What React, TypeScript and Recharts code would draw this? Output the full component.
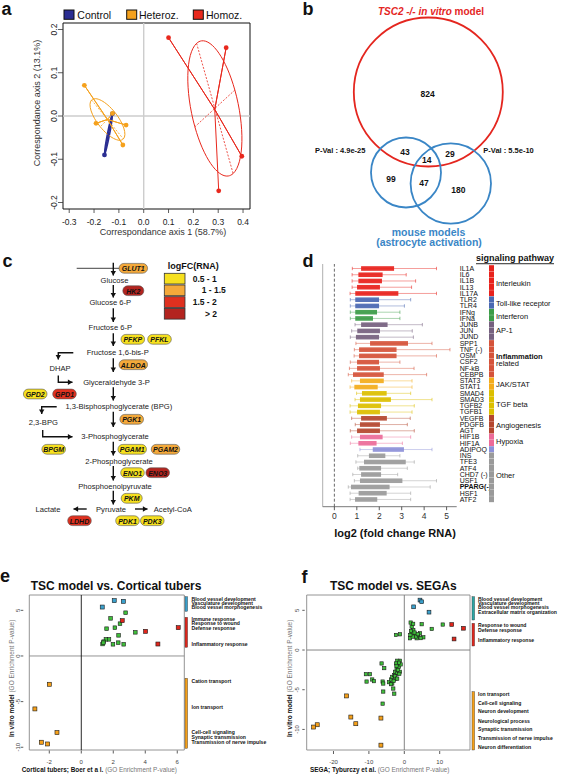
import React from "react";
import {
  Bar,
  Cell,
  ComposedChart,
  ReferenceArea,
  ReferenceLine,
  Scatter,
  ScatterChart,
  XAxis,
  YAxis,
} from "recharts";

const FONT = '"Liberation Sans", Arial, Helvetica, sans-serif';

/* ---------- a: correspondence analysis ---------- */
const CONTROL = "#2b2e92";
const HETEROZ = "#f5a11c";
const HOMOZ = "#e8281d";

const controlPoints = [
  { x: -0.158, y: -0.09 },
  { x: -0.126, y: 0.005 },
];
const controlCentroid = { x: -0.142, y: -0.042 };
const heterozPoints = [
  { x: -0.239, y: 0.071 },
  { x: -0.192, y: -0.017 },
  { x: -0.071, y: -0.021 },
  { x: -0.084, y: -0.067 },
  { x: -0.126, y: 0.006 },
];
const heterozCentroid = { x: -0.146, y: -0.008 };
const homozPoints = [
  { x: 0.1, y: 0.181 },
  { x: 0.332, y: 0.158 },
  { x: 0.395, y: -0.093 },
  { x: 0.302, y: -0.173 },
];
const homozCentroid = { x: 0.286, y: 0.015 };
// ellipse axis ends: major+, minor+, major-, minor-
const controlEllipse = [
  { x: -0.127, y: 0.002 },
  { x: -0.138, y: -0.0435 },
  { x: -0.157, y: -0.087 },
  { x: -0.146, y: -0.0415 },
];
const heterozEllipse = [
  { x: -0.21, y: 0.037 },
  { x: -0.117, y: 0.009 },
  { x: -0.082, y: -0.053 },
  { x: -0.175, y: -0.025 },
];
const homozEllipse = [
  { x: 0.213, y: 0.168 },
  { x: 0.367, y: 0.06 },
  { x: 0.36, y: -0.133 },
  { x: 0.206, y: -0.025 },
];
const aXTicks = [-0.3, -0.2, -0.1, 0, 0.1, 0.2, 0.3, 0.4];
const aYTicks = [-0.2, -0.1, 0, 0.1, 0.2];

/* ---------- b: venn ---------- */
const vennSetColors = ["#e4261f", "#3a86c6", "#3a86c6"];
const vennCircles = [
  { x: 138.3, y: 92, r: 74.5 },
  { x: 116, y: 172.5, r: 35 },
  { x: 160.8, y: 183.5, r: 40.2 },
];
const vennCounts = [824, 43, 14, 29, 99, 47, 180];
const vennCountPos = [
  [137.7, 94],
  [115, 152.3],
  [136.7, 160],
  [160, 154],
  [101, 179],
  [134, 182.7],
  [168.3, 190],
];

/* ---------- c: glycolysis ---------- */
const logFcBins = ["0.5 - 1", "1 - 1.5", "1.5 - 2", "> 2"];
const logFcColors = ["#f6e01e", "#f4a93a", "#df301f", "#b3241f"];
const metaboliteNames = [
  "Glucose", "Glucose 6-P", "Fructose 6-P", "Fructose 1,6-bis-P", "DHAP",
  "Glyceraldehyde 3-P", "1,3-Bisphosphoglycerate (BPG)", "2,3-BPG",
  "3-Phosphoglycerate", "2-Phosphoglycerate", "Phosphoenolpyruvate",
  "Pyruvate", "Lactate", "Acetyl-CoA",
];
const metaboliteXY = [
  [114.5, 280.7], [110.3, 302.7], [110.3, 327.3], [117.7, 352.7], [60, 368.3],
  [116.5, 382.3], [118.8, 406.7], [43.3, 422.7], [115, 436.7], [119, 461],
  [115, 486], [111, 509], [48, 509], [172.8, 509],
];
const enzymeNames = [
  "GLUT1", "HK2", "PFKP", "PFKL", "ALDOA", "GPD2", "GPD1", "PGK1", "BPGM",
  "PGAM1", "PGAM2", "ENO1", "ENO3", "PKM", "LDHD", "PDK1", "PDK3",
];
const enzymeBin = [1, 3, 0, 0, 1, 0, 2, 1, 0, 0, 1, 0, 3, 0, 2, 0, 0];
const enzymeXY = [
  [133.3, 268.3], [133.3, 290.7], [132.8, 339.3], [159.5, 339.3], [133.3, 364.7],
  [35.2, 394], [64.5, 394], [131.7, 419.3], [53.7, 449.3], [132.2, 449.3],
  [165.5, 449.3], [132.5, 472.7], [157.7, 472.7], [131.7, 498.3], [79.5, 520.7],
  [127.5, 520.7], [152.3, 520.7],
];
const pathwayArrows = [
  [[113.3, 262.7], [113.3, 275.5]],
  [[113.3, 285], [113.3, 297.5]],
  [[113.3, 308.3], [113.3, 322]],
  [[113.3, 333.3], [113.3, 346]],
  [[113.3, 358.3], [113.3, 372]],
  [[113.3, 387.3], [113.3, 400.5]],
  [[113.3, 411.7], [113.3, 427]],
  [[113.3, 441.7], [113.3, 455.5]],
  [[113.3, 466], [113.3, 480.5]],
  [[113.3, 490.7], [113.3, 504.5]],
  [[73.3, 352.7], [58.3, 352.7], [58.3, 359.5]],
  [[58.3, 375.5], [58.3, 382.3], [72.5, 382.3]],
  [[56.7, 406.7], [41.7, 406.7], [41.7, 414]],
  [[42.7, 430], [42.7, 436.7], [72.5, 436.7]],
  [[86.7, 509], [73.5, 509]],
  [[135, 509], [147.5, 509]],
];
const membrane = [[76.7, 268.3], [146.7, 268.3]];

/* ---------- d: boxplots ---------- */
const geneNames = [
  "IL1A", "IL6", "IL1B", "IL13", "IL17A", "TLR2", "TLR4", "IFNg", "IFNa",
  "JUNB", "JUN", "JUND", "SPP1", "TNF (-)", "OSM", "CSF2", "NF-kB", "CEBPB",
  "STAT3", "STAT1", "SMAD4", "SMAD3", "TGFB2", "TGFB1", "VEGFB", "PDGFB",
  "AGT", "HIF1B", "HIF1A", "ADIPOQ", "INS", "TFE3", "ATF4", "CHD7 (-)",
  "USF1", "PPARG(-)", "HSF1", "ATF2",
];
const geneGroup = [
  "IL", "IL", "IL", "IL", "IL", "TLR", "TLR", "IFN", "IFN", "AP1", "AP1", "AP1",
  "INF", "INF", "INF", "INF", "INF", "INF", "JAK", "JAK", "TGF", "TGF", "TGF",
  "TGF", "ANG", "ANG", "ANG", "HYP", "HYP", "ADI", "OTH", "OTH", "OTH", "OTH",
  "OTH", "OTH", "OTH", "OTH",
];
const whiskerLow = [
  0.8, 0.79, 0.79, 0.79, 0.7, 0.71, 0.71, 0.71, 0.71, 0.92, 0.77, 0.71, 0.96,
  0.89, 0.88, 0.71, 0.67, 0.62, 0.77, 0.7, 0.99, 0.92, 0.7, 0.7, 0.77, 0.93,
  0.71, 0.77, 0.71, 1.14, 1.04, 0.96, 1.04, 0.82, 0.89, 0.62, 0.7, 0.7,
];
const boxLow = [
  1.19, 1.07, 1.07, 1.01, 0.93, 0.93, 0.93, 0.93, 0.93, 1.19, 1.02, 0.96, 1.59,
  1.1, 1.1, 1.01, 1.01, 0.83, 1.14, 0.89, 1.23, 1.14, 1.05, 1.01, 1.19, 1.14,
  1.01, 1.14, 1.07, 1.71, 1.54, 1.32, 1.11, 1.19, 1.14, 0.74, 1.08, 0.92,
];
const boxHigh = [
  2.66, 2.15, 2.12, 2.03, 2.85, 1.99, 1.99, 1.9, 1.72, 2.37, 2.03, 1.99, 3.28,
  2.77, 2.77, 1.99, 2.03, 2.2, 2.2, 1.93, 2.33, 2.52, 2.08, 2.03, 2.34, 2.03,
  2.03, 2.15, 1.88, 3.1, 2.27, 3.18, 2.08, 2.08, 3.03, 2.46, 2.33, 1.91,
];
const whiskerHigh = [
  4.55, 3.2, 3.62, 3.44, 4.55, 3.4, 3.12, 2.92, 2.92, 3.92, 3.47, 3.52, 4.35,
  5.15, 4.55, 2.92, 3.55, 4.11, 3.46, 3.46, 3.4, 4.35, 3.56, 3.46, 3.38, 3.25,
  3.56, 3.4, 3.03, 4.35, 2.92, 3.56, 3.25, 2.82, 4.55, 4.27, 3.4, 3.4,
];
const groupColor: Record<string, string> = {
  IL: "#e8221c",
  TLR: "#4a68b2",
  IFN: "#3c9c48",
  AP1: "#76617f",
  INF: "#d5533a",
  JAK: "#f3ac1c",
  TGF: "#dcbf00",
  ANG: "#b4472f",
  HYP: "#ec6b99",
  ADI: "#8d90d8",
  OTH: "#9a9a9a",
};
const pathwayLabels = [
  ["Interleukin", 283.3, false],
  ["Toll-like receptor", 303.7, false],
  ["Interferon", 316.7, false],
  ["AP-1", 330.7, false],
  ["Inflammation", 356, true],
  ["related", 363.7, false],
  ["JAK/STAT", 384.7, false],
  ["TGF beta", 404, false],
  ["Angiogenesis", 425.7, false],
  ["Hypoxia", 441.7, false],
  ["Other", 475, false],
];
const dTicks = [0, 1, 2, 3, 4, 5];

const geneRows = geneNames.map((name, i) => ({
  name,
  group: geneGroup[i],
  lo: whiskerLow[i],
  q1: boxLow[i],
  q3: boxHigh[i],
  hi: whiskerHigh[i],
}));

/* ---------- e / f: GO enrichment ---------- */
const BLUE_E = "#3aa0cc";
const TEAL_F = "#2ca6a4";
const GREEN = "#3fbf3a";
const RED = "#e0261c";
const ORANGE = "#f5a01a";

const eBlue = [{ x: 2.06, y: 6.06 }, { x: 2.63, y: 5.99 }, { x: 1.31, y: 5.36 }];
const eGreen = [
  { x: 2.77, y: 4.74 }, { x: 1.83, y: 4.12 }, { x: 2.42, y: 3.54 }, { x: 2.1, y: 3.1 },
  { x: 1.58, y: 2.99 }, { x: 3.38, y: 2.59 }, { x: 2.33, y: 2.26 }, { x: 1.73, y: 1.82 },
  { x: 1.54, y: 1.82 }, { x: 1.4, y: 1.57 }, { x: 1.33, y: 1.31 }, { x: 1.98, y: 1.28 },
  { x: 2.31, y: 1.46 }, { x: 2.65, y: 1.28 }, { x: 1.38, y: 1.46 },
];
const eRed = [{ x: 2.56, y: 3.87 }, { x: 4.02, y: 2.7 }, { x: 6.06, y: 3.1 }, { x: 4.79, y: 1.31 }];
const eOrange = [
  { x: -2.0, y: -3.1 }, { x: -2.9, y: -5.8 }, { x: -1.52, y: -8.39 },
  { x: -2.5, y: -9.45 }, { x: -2.1, y: -9.64 },
];
const eXTicks = [-2, 0, 2, 4, 6];
const eYTicks = [-10, -5, 0, 5];

const fBlue = [{ x: 4.43, y: 6.29 }, { x: 4.91, y: 6.08 }, { x: 2.64, y: 5.44 }, { x: 6.98, y: 4.77 }];
const fRed = [{ x: 13.4, y: 3.21 }, { x: 16.7, y: 2.74 }, { x: 14.06, y: 1.39 }];
const fGreen = [
  { x: 1.79, y: 3.46 }, { x: 4.9, y: 3.25 }, { x: 10.85, y: 3.21 }, { x: 7.74, y: 2.66 },
  { x: 2.08, y: 2.95 }, { x: 2.55, y: 2.53 }, { x: 2.08, y: 2.11 }, { x: 3.02, y: 1.9 },
  { x: 3.96, y: 1.69 }, { x: 5.38, y: 1.6 }, { x: 1.6, y: 1.48 }, { x: 3.49, y: 1.48 },
  { x: 2.36, y: 1.69 }, { x: 4.43, y: 2.11 }, { x: 1.9, y: 2.4 }, { x: 2.9, y: 2.2 },
  { x: 3.3, y: 1.7 }, { x: 1.7, y: 1.9 }, { x: 2.5, y: 3.3 }, { x: 3.8, y: 2.0 },
  { x: 4.6, y: 1.5 }, { x: -2.36, y: 1.9 }, { x: -1.23, y: 1.98 },
  { x: -6.42, y: -1.69 }, { x: -5.66, y: -2.28 }, { x: -10.85, y: -3.04 }, { x: -9.72, y: -3.04 },
  { x: -10.66, y: -3.97 }, { x: -9.06, y: -3.71 }, { x: -8.58, y: -3.92 }, { x: -6.13, y: -3.97 },
  { x: -5.94, y: -4.22 }, { x: -5.94, y: -5.23 }, { x: -3.11, y: -4.85 }, { x: -2.83, y: -5.49 },
  { x: -6.13, y: -6.75 }, { x: -4.34, y: -4.05 }, { x: -3.77, y: -3.71 }, { x: -3.4, y: -3.38 },
  { x: -2.83, y: -3.16 }, { x: -2.64, y: -2.74 }, { x: -2.17, y: -2.32 }, { x: -1.89, y: -1.9 },
  { x: -1.7, y: -1.48 }, { x: -1.23, y: -1.35 }, { x: -1.98, y: -1.35 }, { x: -1.51, y: -2.11 },
  { x: -1.23, y: -2.74 }, { x: -2.08, y: -2.95 }, { x: -2.45, y: -3.59 }, { x: -3.4, y: -4.22 },
  { x: -3.77, y: -4.3 }, { x: -1.04, y: -1.81 }, { x: -2.36, y: -1.69 }, { x: -1.5, y: -1.6 },
  { x: -2.2, y: -2.0 }, { x: -1.8, y: -2.5 }, { x: -2.6, y: -3.3 }, { x: -3.0, y: -3.9 },
  { x: -1.4, y: -3.0 }, { x: -2.0, y: -3.6 },
];
const fOrange = [
  { x: -16.3, y: -5.78 }, { x: -15.1, y: -8.44 }, { x: -13.7, y: -9.28 }, { x: -6.6, y: -8.57 },
  { x: -24.6, y: -9.41 }, { x: -25.6, y: -9.7 }, { x: -6.6, y: -11.98 },
];
const fXTicks = [-20, -10, 0, 10];
const fYTicks = [-10, -5, 0, 5];

const eTerms = [
  ["Blood vessel development", 599],
  ["Vasculature development", 603],
  ["Blood vessel morphogenesis", 607.3],
  ["Immune response", 619.3],
  ["Response to wound", 623],
  ["Defense response", 628.3],
  ["Inflammatory response", 643.7],
  ["Cation transport", 680.7],
  ["Ion transport", 707.3],
  ["Cell-cell signaling", 731.7],
  ["Synaptic transmission", 736.7],
  ["Transmission of nerve impulse", 741.7],
];
const fTerms = [
  ["Blood vessel development", 598.6],
  ["Vasculature development", 603],
  ["Blood vessel morphogenesis", 607.3],
  ["Extracellular matrix organization", 611.6],
  ["Response to wound", 625],
  ["Defense response", 630],
  ["Inflammatory response", 640],
  ["Ion transport", 694],
  ["Cell-cell signaling", 702.5],
  ["Neuron development", 711.3],
  ["Neurological process", 720.5],
  ["Synaptic transmission", 729.3],
  ["Transmission of nerve impulse", 738],
  ["Neuron differentiation", 746.7],
];

/* ---------- helpers ---------- */
const noDot = () => <g />;

function ellipsePath(pts: { x: number; y: number }[]) {
  const [a, b, c] = pts;
  const cx = (a.x + c.x) / 2;
  const cy = (a.y + c.y) / 2;
  const ux = a.x - cx, uy = a.y - cy, vx = b.x - cx, vy = b.y - cy;
  const k = 0.5523;
  const P = (px: number, py: number) => `${px.toFixed(2)},${py.toFixed(2)}`;
  return (
    `M${P(cx + ux, cy + uy)}` +
    `C${P(cx + ux + k * vx, cy + uy + k * vy)} ${P(cx + vx + k * ux, cy + vy + k * uy)} ${P(cx + vx, cy + vy)}` +
    `C${P(cx + vx - k * ux, cy + vy - k * uy)} ${P(cx - ux + k * vx, cy - uy + k * vy)} ${P(cx - ux, cy - uy)}` +
    `C${P(cx - ux - k * vx, cy - uy - k * vy)} ${P(cx - vx - k * ux, cy - vy - k * uy)} ${P(cx - vx, cy - vy)}` +
    `C${P(cx - vx + k * ux, cy - vy + k * uy)} ${P(cx + ux - k * vx, cy + uy - k * vy)} ${P(cx + ux, cy + uy)}Z`
  );
}

const star = (c: { x: number; y: number }, pts: { x: number; y: number }[]) =>
  pts.flatMap((p) => [c, p]);

function xTick(mark: number[], off: number, size: number, fmt: (v: number) => string, color = "#222") {
  return (p: any) => (
    <g>
      <line x1={p.x} x2={p.x} y1={p.y + mark[0]} y2={p.y + mark[1]} stroke="#333" strokeWidth={0.8} />
      <text x={p.x} y={p.y + off} textAnchor="middle" dominantBaseline="central" fontSize={size} fill={color} fontFamily={FONT}>
        {fmt(p.payload.value)}
      </text>
    </g>
  );
}

function yTick(mark: number[], off: number, size: number, fmt: (v: number) => string, color = "#222") {
  return (p: any) => (
    <g>
      <line x1={p.x - mark[0]} x2={p.x - mark[1]} y1={p.y} y2={p.y} stroke="#333" strokeWidth={0.8} />
      <text
        x={p.x - off}
        y={p.y}
        textAnchor="middle"
        dominantBaseline="central"
        fontSize={size}
        fill={color}
        fontFamily={FONT}
        transform={`rotate(-90 ${p.x - off} ${p.y})`}
      >
        {fmt(p.payload.value)}
      </text>
    </g>
  );
}

const dot = (fill: string, r: number) => (p: any) => <circle cx={p.cx} cy={p.cy} r={r} fill={fill} />;
const square = (fill: string, s: number) => (p: any) => (
  <rect x={p.cx - s / 2} y={p.cy - s / 2} width={s} height={s} fill={fill} stroke="#1a1a1a" strokeWidth={0.6} />
);

function arrowLine(p: any) {
  const pts = p.points;
  const d = pts.map((q: any, i: number) => `${i ? "L" : "M"}${q.x},${q.y}`).join("");
  const a = pts[pts.length - 2];
  const b = pts[pts.length - 1];
  const ang = Math.atan2(b.y - a.y, b.x - a.x);
  const L = 4.6, W = 2.7;
  const bx = b.x - L * Math.cos(ang), by = b.y - L * Math.sin(ang);
  const head = `M${b.x},${b.y}L${bx + W * Math.sin(ang)},${by - W * Math.cos(ang)}L${bx - W * Math.sin(ang)},${by + W * Math.cos(ang)}Z`;
  return (
    <g>
      <path d={d} fill="none" stroke="#111" strokeWidth={1.4} />
      <path d={head} fill="#111" />
    </g>
  );
}

const toXY = (pts: number[][]) => pts.map(([x, y]) => ({ x, y }));

/* ---------- panels ---------- */
function PanelA() {
  const groups = [
    { c: CONTROL, pts: controlPoints, cen: controlCentroid, ell: controlEllipse, w: 1.6 },
    { c: HETEROZ, pts: heterozPoints, cen: heterozCentroid, ell: heterozEllipse, w: 1 },
    { c: HOMOZ, pts: homozPoints, cen: homozCentroid, ell: homozEllipse, w: 1 },
  ];
  return (
    <ScatterChart width={290} height={240} margin={{ top: 23, right: 40, bottom: 11, left: 33 }}>
      <XAxis
        type="number"
        dataKey="x"
        domain={[-0.325, 0.428]}
        ticks={aXTicks}
        allowDataOverflow
        axisLine={false}
        tickLine={false}
        tickSize={0}
        tickMargin={0}
        height={20}
        interval={0}
        tick={xTick([0, 4], 12.7, 8.5, (v) => v.toFixed(1))}
      />
      <YAxis
        type="number"
        dataKey="y"
        domain={[-0.215, 0.215]}
        ticks={aYTicks}
        allowDataOverflow
        axisLine={false}
        tickLine={false}
        tickSize={0}
        tickMargin={0}
        width={30}
        interval={0}
        tick={yTick([0, 5], 9.4, 8.5, (v) => v.toFixed(1))}
      />
      <ReferenceLine x={0} stroke="#cdcdcd" strokeWidth={1.4} />
      <ReferenceLine y={0} stroke="#cdcdcd" strokeWidth={1.4} />
      {groups.map((g, i) => (
        <Scatter
          key={`e${i}`}
          data={g.ell}
          shape={noDot}
          line={(lp: any) => <path d={ellipsePath(lp.points)} fill="none" stroke={g.c} strokeWidth={g.w} />}
          isAnimationActive={false}
        />
      ))}
      {groups.map((g, i) => (
        <Scatter
          key={`m${i}`}
          data={[g.ell[0], g.ell[2]]}
          shape={noDot}
          line={{ stroke: g.c, strokeWidth: 0.8, strokeDasharray: "2 1.5" }}
          lineType="joint"
          isAnimationActive={false}
        />
      ))}
      {groups.map((g, i) => (
        <Scatter
          key={`n${i}`}
          data={[g.ell[1], g.ell[3]]}
          shape={noDot}
          line={{ stroke: g.c, strokeWidth: 0.8, strokeDasharray: "2 1.5" }}
          lineType="joint"
          isAnimationActive={false}
        />
      ))}
      {groups.map((g, i) => (
        <Scatter
          key={`s${i}`}
          data={star(g.cen, g.pts)}
          shape={noDot}
          line={{ stroke: g.c, strokeWidth: g.w }}
          lineType="joint"
          isAnimationActive={false}
        />
      ))}
      {groups.map((g, i) => (
        <Scatter key={`p${i}`} data={g.pts} shape={dot(g.c, 2.4)} isAnimationActive={false} />
      ))}
      <ReferenceArea x1={-0.325} x2={0.428} y1={-0.215} y2={0.215} fill="none" stroke="#111" strokeWidth={1} />
    </ScatterChart>
  );
}

function PanelB() {
  const circles = vennCircles.map((c, i) => ({ ...c, color: vennSetColors[i] }));
  const counts = vennCounts.map((n, i) => ({ n, x: vennCountPos[i][0], y: vennCountPos[i][1] }));
  return (
    <ScatterChart width={277} height={260} margin={{ top: 0, right: 0, bottom: 0, left: 0 }}>
      <XAxis hide type="number" dataKey="x" domain={[0, 277]} allowDataOverflow />
      <YAxis hide type="number" dataKey="y" domain={[0, 260]} reversed allowDataOverflow />
      <Scatter
        data={circles}
        isAnimationActive={false}
        shape={(p: any) => (
          <circle cx={p.cx} cy={p.cy} r={p.payload.r} fill="none" stroke={p.payload.color} strokeWidth={1.8} />
        )}
      />
      <Scatter
        data={counts}
        isAnimationActive={false}
        shape={(p: any) => (
          <text x={p.cx} y={p.cy} textAnchor="middle" dominantBaseline="central" fontSize={8.5} fontWeight="bold" fill="#111" fontFamily={FONT}>
            {p.payload.n}
          </text>
        )}
      />
    </ScatterChart>
  );
}

function PanelC() {
  const mets = metaboliteNames.map((name, i) => ({ name, x: metaboliteXY[i][0], y: metaboliteXY[i][1] }));
  const enz = enzymeNames.map((name, i) => ({ name, bin: enzymeBin[i], x: enzymeXY[i][0], y: enzymeXY[i][1] }));
  return (
    <ScatterChart width={290} height={280} margin={{ top: 0, right: 0, bottom: 0, left: 0 }}>
      <XAxis hide type="number" dataKey="x" domain={[0, 290]} allowDataOverflow />
      <YAxis hide type="number" dataKey="y" domain={[250, 530]} reversed allowDataOverflow />
      <Scatter data={toXY(membrane)} shape={noDot} line={{ stroke: "#111", strokeWidth: 0.8 }} lineType="joint" isAnimationActive={false} />
      {pathwayArrows.map((a, i) => (
        <Scatter key={i} data={toXY(a)} shape={noDot} line={arrowLine} lineType="joint" isAnimationActive={false} />
      ))}
      <Scatter
        data={mets}
        isAnimationActive={false}
        shape={(p: any) => (
          <text x={p.cx} y={p.cy} textAnchor="middle" dominantBaseline="central" fontSize={7.6} fill="#222" fontFamily={FONT}>
            {p.payload.name}
          </text>
        )}
      />
      <Scatter
        data={enz}
        isAnimationActive={false}
        shape={(p: any) => {
          const w = Math.max(21, p.payload.name.length * 4.9 + 4);
          return (
            <g>
              <rect x={p.cx - w / 2} y={p.cy - 4.9} width={w} height={9.8} rx={4.9} fill={logFcColors[p.payload.bin]} stroke="#555" strokeWidth={0.6} />
              <text x={p.cx} y={p.cy + 0.3} textAnchor="middle" dominantBaseline="central" fontSize={7} fontWeight="bold" fontStyle="italic" fill="#111" fontFamily={FONT}>
                {p.payload.name}
              </text>
            </g>
          );
        }}
      />
    </ScatterChart>
  );
}

function BoxShape(props: any) {
  const { x, y, width, height } = props;
  const d = props.payload ?? props;
  const color = groupColor[d.group];
  const k = width / (d.hi - d.lo);
  const b1 = x + (d.q1 - d.lo) * k;
  const b2 = x + (d.q3 - d.lo) * k;
  const cy = y + height / 2;
  return (
    <g>
      <line x1={x} x2={x + width} y1={cy} y2={cy} stroke={color} strokeOpacity={0.55} strokeWidth={0.8} />
      <line x1={x} x2={x} y1={cy - 1.7} y2={cy + 1.7} stroke={color} strokeOpacity={0.7} strokeWidth={0.8} />
      <line x1={x + width} x2={x + width} y1={cy - 1.7} y2={cy + 1.7} stroke={color} strokeOpacity={0.7} strokeWidth={0.8} />
      <rect x={b1} y={y} width={b2 - b1} height={height} fill={color} fillOpacity={0.92} />
    </g>
  );
}

function PanelD() {
  return (
    <ComposedChart
      layout="vertical"
      width={190}
      height={266}
      data={geneRows}
      margin={{ top: 9, right: 0, bottom: 0.3, left: 22.7 }}
      barCategoryGap={0}
    >
      <XAxis
        type="number"
        domain={[-0.52, 5.45]}
        ticks={dTicks}
        allowDataOverflow
        height={14}
        axisLine={{ stroke: "#555", strokeWidth: 0.8 }}
        tickLine={false}
        tickSize={0}
        tickMargin={0}
        interval={0}
        tick={xTick([0, 3.5], 9.3, 8.5, (v) => String(v), "#333")}
      />
      <XAxis
        xAxisId="top"
        orientation="top"
        type="number"
        domain={[-0.52, 5.45]}
        allowDataOverflow
        height={0}
        tick={false}
        tickLine={false}
        axisLine={{ stroke: "#8a8ad0", strokeWidth: 0.8 }}
      />
      <YAxis
        type="category"
        dataKey="name"
        orientation="right"
        width={33.3}
        axisLine={false}
        tickLine={false}
        tickSize={0}
        tickMargin={3}
        interval={0}
        padding={{ top: 1.2, bottom: 4.3 }}
        tick={(p: any) => (
          <text
            x={p.x}
            y={p.y}
            textAnchor="start"
            dominantBaseline="central"
            fontSize={7}
            fontWeight={p.payload.value === "PPARG(-)" ? "bold" : "normal"}
            fill="#111"
            fontFamily={FONT}
          >
            {p.payload.value}
          </text>
        )}
      />
      <ReferenceLine x={-0.52} stroke="#999" strokeWidth={0.8} />
      <ReferenceLine x={0} stroke="#444" strokeWidth={0.8} strokeDasharray="3 2" />
      <Bar dataKey={(d: any) => [d.lo, d.hi]} barSize={4.6} shape={BoxShape} isAnimationActive={false} />
    </ComposedChart>
  );
}

function PathwayBand() {
  return (
    <ComposedChart
      layout="vertical"
      width={7}
      height={266}
      data={geneRows}
      margin={{ top: 9, right: 1, bottom: 14.3, left: 1 }}
      barCategoryGap={0}
    >
      <XAxis hide type="number" domain={[0, 1]} />
      <YAxis hide type="category" dataKey="name" padding={{ top: 1.2, bottom: 4.3 }} />
      <Bar dataKey={() => 1} isAnimationActive={false}>
        {geneRows.map((r, i) => (
          <Cell key={i} fill={groupColor[r.group]} />
        ))}
      </Bar>
    </ComposedChart>
  );
}

function PanelE() {
  return (
    <ScatterChart width={200} height={187} margin={{ top: 7, right: 15.7, bottom: 13, left: 9.3 }}>
      <XAxis
        type="number"
        dataKey="x"
        domain={[-3.25, 6.44]}
        ticks={eXTicks}
        allowDataOverflow
        height={12}
        axisLine={false}
        tickLine={false}
        tickSize={0}
        tickMargin={0}
        interval={0}
        tick={xTick([0.5, 3.5], 11.7, 6, (v) => String(v), "#444")}
      />
      <YAxis
        type="number"
        dataKey="y"
        domain={[-10.3, 6.68]}
        ticks={eYTicks}
        allowDataOverflow
        width={20}
        axisLine={false}
        tickLine={false}
        tickSize={0}
        tickMargin={0}
        interval={0}
        tick={yTick([6, 8.6], 11, 6, (v) => String(v), "#444")}
      />
      <ReferenceLine y={0} stroke="#888" strokeWidth={0.9} />
      <ReferenceLine x={0} stroke="#111" strokeWidth={0.9} />
      <Scatter data={eGreen} shape={square(GREEN, 3.6)} isAnimationActive={false} />
      <Scatter data={eBlue} shape={square(BLUE_E, 4)} isAnimationActive={false} />
      <Scatter data={eRed} shape={square(RED, 4)} isAnimationActive={false} />
      <Scatter data={eOrange} shape={square(ORANGE, 4)} isAnimationActive={false} />
      <ReferenceArea x1={-3.25} x2={6.44} y1={-10.3} y2={6.68} fill="none" stroke="#888" strokeWidth={0.9} />
    </ScatterChart>
  );
}

function PanelF() {
  return (
    <ScatterChart width={200} height={187} margin={{ top: 7, right: 15, bottom: 13, left: 9.7 }}>
      <XAxis
        type="number"
        dataKey="x"
        domain={[-27.57, 18.56]}
        ticks={fXTicks}
        allowDataOverflow
        height={12}
        axisLine={false}
        tickLine={false}
        tickSize={0}
        tickMargin={0}
        interval={0}
        tick={xTick([1, 4], 11.7, 6, (v) => String(v), "#444")}
      />
      <YAxis
        type="number"
        dataKey="y"
        domain={[-12.59, 6.93]}
        ticks={fYTicks}
        allowDataOverflow
        width={12}
        axisLine={false}
        tickLine={false}
        tickSize={0}
        tickMargin={0}
        interval={0}
        tick={yTick([2, 4.4], 9.4, 6, (v) => String(v), "#444")}
      />
      <ReferenceLine y={0} stroke="#777" strokeWidth={0.9} />
      <ReferenceLine x={0} stroke="#777" strokeWidth={0.9} />
      <Scatter data={fGreen} shape={square(GREEN, 3.3)} isAnimationActive={false} />
      <Scatter data={fBlue} shape={square(BLUE_E, 3.8)} isAnimationActive={false} />
      <Scatter data={fRed} shape={square(RED, 3.8)} isAnimationActive={false} />
      <Scatter data={fOrange} shape={square(ORANGE, 4)} isAnimationActive={false} />
      <ReferenceArea x1={-27.57} x2={18.56} y1={-12.59} y2={6.93} fill="none" stroke="#888" strokeWidth={0.9} />
    </ScatterChart>
  );
}

/* ---------- free text ---------- */
function Txt(props: any) {
  const { x, y, size = 8, weight = "normal", anchor = "start", color = "#111", italic = false, rotate = 0, base = "central", deco, children } = props;
  return (
    <text
      x={x}
      y={y}
      fontSize={size}
      fontWeight={weight}
      textAnchor={anchor}
      fill={color}
      fontStyle={italic ? "italic" : "normal"}
      dominantBaseline={base}
      textDecoration={deco}
      fontFamily={FONT}
      transform={rotate ? `rotate(${rotate} ${x} ${y})` : undefined}
    >
      {children}
    </text>
  );
}

function Overlay() {
  const legendA = [
    { label: "Control", c: CONTROL, bx: 64, tx: 77.3 },
    { label: "Heteroz.", c: HETEROZ, bx: 126.7, tx: 139 },
    { label: "Homoz.", c: HOMOZ, bx: 193.3, tx: 206 },
  ];
  const logFcLabelX = [192.7, 201.7, 192.7, 205];
  return (
    <svg width={567} height={775} style={{ position: "absolute", left: 0, top: 0, pointerEvents: "none" }}>
      {/* letters */}
      <Txt x={1.5} y={15} size={18} weight="bold" base="alphabetic">a</Txt>
      <Txt x={302.5} y={15} size={18} weight="bold" base="alphabetic">b</Txt>
      <Txt x={2.5} y={266.7} size={18} weight="bold" base="alphabetic">c</Txt>
      <Txt x={302.5} y={266.7} size={18} weight="bold" base="alphabetic">d</Txt>
      <Txt x={0} y={581.7} size={18} weight="bold" base="alphabetic">e</Txt>
      <Txt x={301.5} y={583.3} size={18} weight="bold" base="alphabetic">f</Txt>

      {/* a */}
      {legendA.map((l) => (
        <g key={l.label}>
          <rect x={l.bx} y={10} width={10} height={9.3} fill={l.c} stroke="#111" strokeWidth={1} />
          <Txt x={l.tx} y={14.8} size={10.5}>{l.label}</Txt>
        </g>
      ))}
      <Txt x={163} y={232} size={9} anchor="middle" color="#333">Correspondance axis 1 (58.7%)</Txt>
      <Txt x={37.3} y={103} size={9} anchor="middle" color="#333" rotate={-90}>Correspondance axis 2 (13.1%)</Txt>

      {/* b */}
      <text x={431} y={11} fontSize={10} fontWeight="bold" textAnchor="middle" dominantBaseline="central" fill="#e4261f" fontFamily={FONT}>
        <tspan fontStyle="italic">TSC2 -/- in vitro</tspan>
        <tspan> model</tspan>
      </text>
      <Txt x={315} y={150} size={7.5} weight="bold">P-Val : 4.9e-25</Txt>
      <Txt x={483.3} y={150} size={7.5} weight="bold">P-Val : 5.5e-10</Txt>
      <Txt x={428.5} y={231.7} size={10.5} weight="bold" anchor="middle" color="#3a86c6">mouse models</Txt>
      <Txt x={429} y={241.7} size={10.5} weight="bold" anchor="middle" color="#3a86c6">(astrocyte activation)</Txt>

      {/* c legend */}
      <Txt x={193.3} y={265.7} size={9} weight="bold" anchor="middle">logFC(RNA)</Txt>
      {logFcBins.map((b, i) => (
        <g key={b}>
          <rect x={164.3} y={273.3 + i * 11.7} width={20.7} height={10.7} fill={logFcColors[i]} stroke="#333" strokeWidth={0.8} />
          <Txt x={logFcLabelX[i]} y={278.7 + i * 11.7} size={8.5} weight="bold">{b}</Txt>
        </g>
      ))}

      {/* d */}
      <Txt x={476} y={258.3} size={9} weight="bold" deco="underline">signaling pathway</Txt>
      {pathwayLabels.map(([t, y, b]) => (
        <Txt key={String(t)} x={496} y={y} size={7.5} weight={b ? "bold" : "normal"}>{t}</Txt>
      ))}
      <Txt x={395} y={532.7} size={11} weight="bold" anchor="middle">log2 (fold change RNA)</Txt>

      {/* e */}
      <Txt x={30.7} y={585.7} size={12} weight="bold">TSC model vs. Cortical tubers</Txt>
      <text x={21.7} y={769} fontSize={6.4} dominantBaseline="central" fontFamily={FONT}>
        <tspan fontWeight="bold" fill="#111">Cortical tubers; Boer et a l.</tspan>
        <tspan fill="#777"> (GO Enrichment P-value)</tspan>
      </text>
      <text x={10.5} y={737} fontSize={6.5} dominantBaseline="central" fontFamily={FONT} transform="rotate(-90 10.5 737)">
        <tspan fontWeight="bold" fill="#111">In vitro model</tspan>
        <tspan fill="#777"> (GO Enrichment P-value)</tspan>
      </text>
      <rect x={185} y={596.7} width={2.6} height={14.6} fill={BLUE_E} stroke="#333" strokeWidth={0.4} />
      <rect x={185} y={617.3} width={2.6} height={30} fill={RED} stroke="#333" strokeWidth={0.4} />
      <rect x={185} y={678.3} width={2.6} height={70} fill={ORANGE} stroke="#333" strokeWidth={0.4} />
      {eTerms.map(([t, y]) => (
        <Txt key={String(t)} x={191.5} y={y} size={5.1} weight="bold">{t}</Txt>
      ))}

      {/* f */}
      <Txt x={393.3} y={585.7} size={12} weight="bold" anchor="middle">TSC model vs. SEGAs</Txt>
      <text x={310} y={769} fontSize={6.4} dominantBaseline="central" fontFamily={FONT}>
        <tspan fontWeight="bold" fill="#111">SEGA; Tyburczy et al.</tspan>
        <tspan fill="#777"> (GO Enrichment P-value)</tspan>
      </text>
      <text x={289} y={737} fontSize={6.5} dominantBaseline="central" fontFamily={FONT} transform="rotate(-90 289 737)">
        <tspan fontWeight="bold" fill="#111">In vitro model</tspan>
        <tspan fill="#777"> (GO Enrichment P-value)</tspan>
      </text>
      <rect x={472} y={596.7} width={2.6} height={23.3} fill={TEAL_F} stroke="#333" strokeWidth={0.4} />
      <rect x={472} y={623.3} width={2.6} height={22.7} fill={RED} stroke="#333" strokeWidth={0.4} />
      <rect x={472} y={691.7} width={2.6} height={58.3} fill={ORANGE} stroke="#333" strokeWidth={0.4} />
      {fTerms.map(([t, y]) => (
        <Txt key={String(t)} x={478} y={y} size={5.1} weight="bold">{t}</Txt>
      ))}
    </svg>
  );
}

export default function App() {
  return (
    <div style={{ position: "absolute", left: 0, top: 0, width: 567, height: 775, background: "#fff", overflow: "hidden", fontFamily: FONT }}>
      <div style={{ position: "absolute", left: 0, top: 0 }}>
        <PanelA />
      </div>
      <div style={{ position: "absolute", left: 290, top: 0 }}>
        <PanelB />
      </div>
      <div style={{ position: "absolute", left: 0, top: 250 }}>
        <PanelC />
      </div>
      <div style={{ position: "absolute", left: 300, top: 255 }}>
        <PanelD />
      </div>
      <div style={{ position: "absolute", left: 488, top: 255 }}>
        <PathwayBand />
      </div>
      <div style={{ position: "absolute", left: 0, top: 588 }}>
        <PanelE />
      </div>
      <div style={{ position: "absolute", left: 285, top: 588 }}>
        <PanelF />
      </div>
      <Overlay />
    </div>
  );
}
